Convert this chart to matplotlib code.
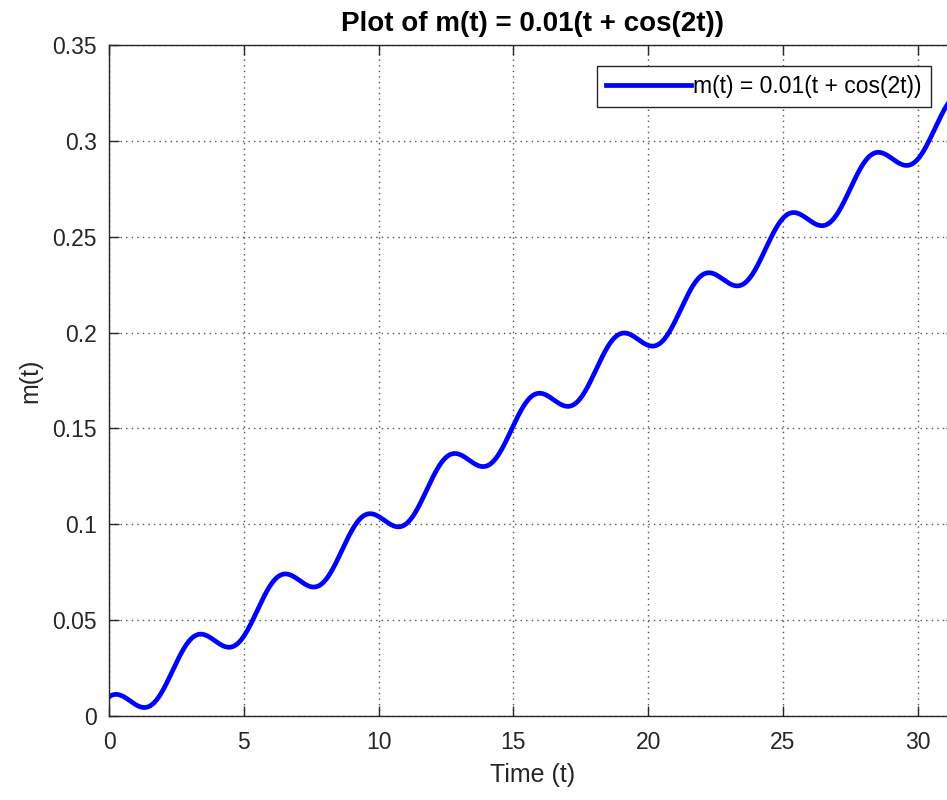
import numpy as np
import matplotlib
matplotlib.use('Agg')
import matplotlib.pyplot as plt

# m(t) = 0.01(t + cos(2t)) over t in [0, 10*pi]
T_END = 10 * np.pi
t = np.linspace(0, T_END, 2000)
m = 0.01 * (t + np.cos(2 * t))

X_TICKS = [0, 5, 10, 15, 20, 25, 30]
Y_TICKS = [0, 0.05, 0.1, 0.15, 0.2, 0.25, 0.3, 0.35]
Y_LABELS = ["0", "0.05", "0.1", "0.15", "0.2", "0.25", "0.3", "0.35"]

plt.rcParams['font.family'] = ['Liberation Sans', 'DejaVu Sans']

fig = plt.figure(figsize=(9.47, 8.0), dpi=100)
fig.patch.set_facecolor("white")
# axes run past the right edge of the canvas
ax = fig.add_axes([109 / 947, 1 - 716 / 800, (956 - 109) / 947, (716 - 45) / 800])

ax.plot(t, m, color="#0000FF", linewidth=3.4, label="m(t) = 0.01(t + cos(2t))")

ax.set_xlim(0, T_END)
ax.set_ylim(0, 0.35)
ax.set_xticks(X_TICKS)
ax.set_xticklabels([str(v) for v in X_TICKS])
ax.set_yticks(Y_TICKS)
ax.set_yticklabels(Y_LABELS)

ax.grid(True, color="#262626", linestyle=(0, (1, 3)), linewidth=1.0, alpha=0.8)
ax.tick_params(direction="in", length=7, width=1, colors="#262626",
               labelsize=16.5, top=True, right=True)
ax.tick_params(axis="x", pad=11)
ax.tick_params(axis="y", pad=9)
for lbl in ax.get_xticklabels() + ax.get_yticklabels():
    lbl.set_color("#262626")
for spine in ax.spines.values():
    spine.set_edgecolor("#262626")
    spine.set_linewidth(1.0)

ax.set_xlabel("Time (t)", fontsize=18, color="#262626", labelpad=6)
ax.set_ylabel("m(t)", fontsize=18, color="#262626", labelpad=7)
ax.set_title("Plot of m(t) = 0.01(t + cos(2t))", fontsize=20,
             fontweight="bold", color="black", pad=10)

leg = ax.legend(loc="upper left", bbox_to_anchor=((597 - 109) / 847, 1 - (66 - 45) / 671),
                fontsize=16.5, frameon=True, fancybox=False, framealpha=1,
                edgecolor="#262626", handlelength=3.7, handletextpad=0.1,
                borderpad=0.4, borderaxespad=0)
leg.get_frame().set_linewidth(1.0)

plt.savefig("out.png", dpi=100, facecolor="white")
plt.close()
